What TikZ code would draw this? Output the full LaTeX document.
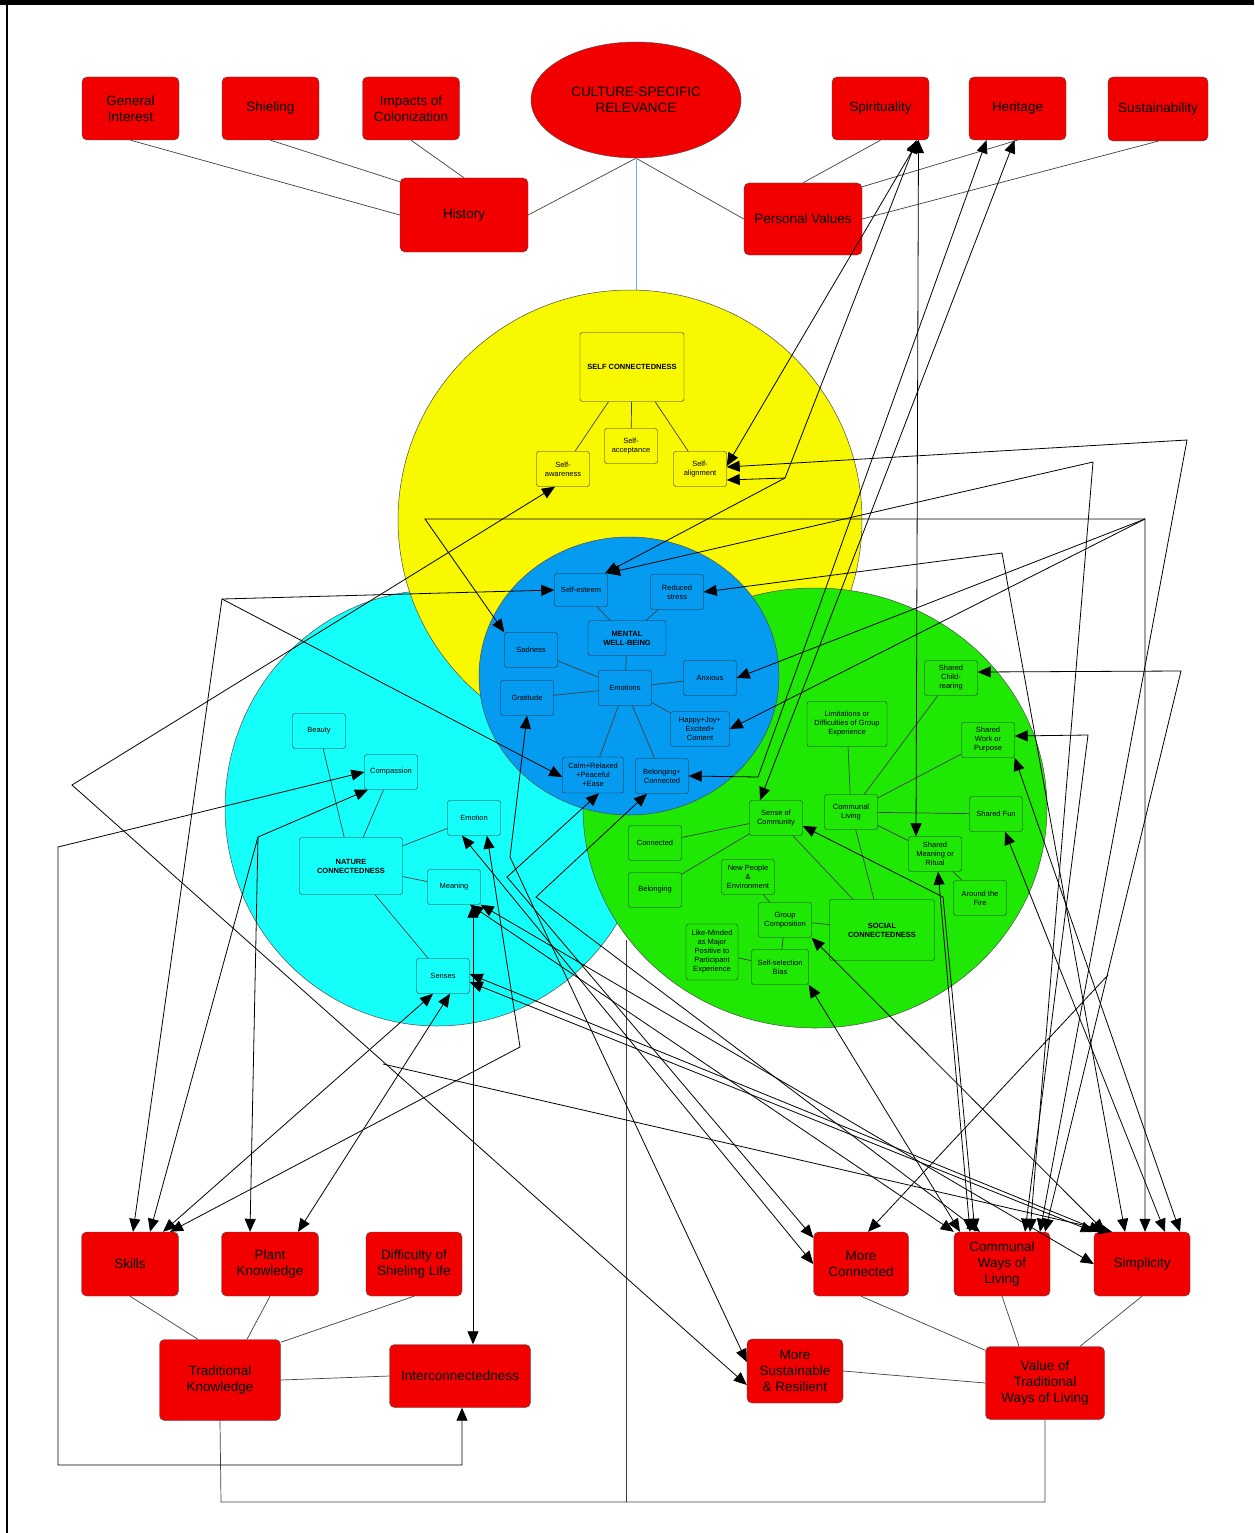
\documentclass[tikz,border=0pt]{standalone}
\usepackage{fontspec}
\setmainfont{Liberation Sans}
\usetikzlibrary{arrows.meta,shapes.geometric}

\definecolor{boxred}{RGB}{242,0,0}
\definecolor{selfyellow}{RGB}{248,248,0}
\definecolor{naturecyan}{RGB}{20,255,250}
\definecolor{socialgreen}{RGB}{32,232,5}
\definecolor{mentalblue}{RGB}{5,155,240}
\definecolor{stemblue}{RGB}{130,165,230}

\newcommand{\redfont}{\fontsize{13.5}{16}\selectfont}
\newcommand{\tinyfont}{\fontsize{7.5}{9}\selectfont}

\tikzset{
	redbox/.style={draw=black!70, fill=boxred, rounded corners=5pt, align=center, font=\redfont, inner sep=1pt},
	smallbox/.style={draw=black!85, fill=#1, rounded corners=2.5pt, align=center, font=\tinyfont, inner sep=1pt, minimum width=53pt, minimum height=35pt},
	headbox/.style={smallbox=#1, font=\tinyfont\bfseries},
	zone/.style={draw=black!70, line width=0.5pt, fill=#1},
	link/.style={draw=black!75, line width=0.7pt},
	both/.style={draw=black, line width=0.8pt, {Triangle[length=13pt,width=11pt]}-{Triangle[length=13pt,width=11pt]}},
	tip/.style={draw=black, line width=0.8pt, -{Triangle[length=13pt,width=11pt]}}
}

\begin{document}
\begin{tikzpicture}[x=1pt, y=-1pt]
	\useasboundingbox (0,0) rectangle (1254,1533);
	\fill[black] (0,0) rectangle (1254,5);
	\draw[line width=2pt] (7,0) -- (7,1533);

	% the four circles
	\draw[zone=naturecyan] (437,808) ellipse [x radius=212pt, y radius=218pt];
	\draw[zone=selfyellow] (630,520) ellipse [x radius=232pt, y radius=230pt];
	\draw[zone=socialgreen] (815,808) ellipse [x radius=232pt, y radius=220pt];
	\draw[zone=mentalblue] (629,676) ellipse [x radius=150pt, y radius=139pt];

	% top row
	\node[redbox, minimum width=97pt, minimum height=63pt] (geninterest) at (130.5,108.5) {General\\Interest};
	\node[redbox, minimum width=97pt, minimum height=63pt] (shieling) at (270.5,108.5) {Shieling};
	\node[redbox, minimum width=97pt, minimum height=63pt] (impacts) at (411,108.5) {Impacts of\\Colonization};
	\node[draw=black!70, fill=boxred, ellipse, minimum width=210pt, minimum height=116pt, align=center, font=\redfont] (csr) at (636,100) {CULTURE-SPECIFIC\\RELEVANCE};
	\node[redbox, minimum width=97pt, minimum height=63pt] (spirit) at (880.5,108.5) {Spirituality};
	\node[redbox, minimum width=97pt, minimum height=63pt] (heritage) at (1017.5,108.5) {Heritage};
	\node[redbox, minimum width=100pt, minimum height=64pt] (sustain) at (1158,109) {Sustainability};
	\node[redbox, minimum width=128pt, minimum height=74pt] (history) at (464,215) {History};
	\node[redbox, minimum width=118pt, minimum height=72pt] (persvalues) at (803,219) {Personal Values};
	\coordinate (yellowtop) at (636,290);

	% self connectedness
	\node[headbox=selfyellow, minimum width=104pt, minimum height=69pt] (selfconn) at (632,367) {SELF CONNECTEDNESS};
	\node[smallbox=selfyellow] (selfaware) at (563,469) {Self-\\awareness};
	\node[smallbox=selfyellow] (selfaccept) at (631,446) {Self-\\acceptance};
	\node[smallbox=selfyellow] (selfalign) at (700,469) {Self-\\alignment};

	% mental well-being
	\node[smallbox=mentalblue, minimum height=33pt] (selfesteem) at (581,590) {Self-esteem};
	\node[smallbox=mentalblue] (reducedstress) at (677,592) {Reduced\\stress};
	\node[headbox=mentalblue, minimum width=78pt] (mentalwb) at (627,638) {MENTAL\\WELL-BEING};
	\node[smallbox=mentalblue] (sadness) at (531,650) {Sadness};
	\node[smallbox=mentalblue] (anxious) at (710,678) {Anxious};
	\node[smallbox=mentalblue] (emotions) at (625,688) {Emotions};
	\node[smallbox=mentalblue] (gratitude) at (527,698) {Gratitude};
	\node[smallbox=mentalblue, minimum width=59pt] (happyjoy) at (700,729) {Happy+Joy+\\Excited+\\Content};
	\node[smallbox=mentalblue, minimum width=61pt, minimum height=36pt] (calm) at (593,775) {Calm+Relaxed\\+Peaceful\\+Ease};
	\node[smallbox=mentalblue] (belongconn) at (662,776) {Belonging+\\Connected};

	% nature connectedness
	\node[smallbox=naturecyan] (beauty) at (319,731) {Beauty};
	\node[smallbox=naturecyan] (compassion) at (391,772) {Compassion};
	\node[headbox=naturecyan, minimum width=103pt, minimum height=57pt] (natureconn) at (351,866) {NATURE\\CONNECTEDNESS};
	\node[smallbox=naturecyan] (emotion) at (474,818) {Emotion};
	\node[smallbox=naturecyan] (meaning) at (454,887) {Meaning};
	\node[smallbox=naturecyan] (senses) at (443,976) {Senses};

	% social connectedness
	\node[smallbox=socialgreen] (childrearing) at (951,678) {Shared\\Child-\\rearing};
	\node[smallbox=socialgreen, minimum width=80pt, minimum height=45pt] (limitations) at (847,724) {Limitations or\\Difficulties of Group\\Experience};
	\node[smallbox=socialgreen] (sharedwork) at (988,740) {Shared\\Work or\\Purpose};
	\node[smallbox=socialgreen] (communalliving) at (851,812) {Communal\\Living};
	\node[smallbox=socialgreen] (senseofcomm) at (776,818) {Sense of\\Community};
	\node[smallbox=socialgreen] (sharedfun) at (996,814) {Shared Fun};
	\node[smallbox=socialgreen] (connected) at (655,843) {Connected};
	\node[smallbox=socialgreen] (sharedmeaning) at (935,854) {Shared\\Meaning or\\Ritual};
	\node[smallbox=socialgreen] (newpeople) at (748,877) {New People\\\&\\Environment};
	\node[smallbox=socialgreen] (belonging) at (655,890) {Belonging};
	\node[smallbox=socialgreen] (aroundfire) at (980,898) {Around the\\Fire};
	\node[smallbox=socialgreen] (groupcomp) at (785,920) {Group\\Composition};
	\node[headbox=socialgreen, minimum width=105pt, minimum height=61pt] (socialconn) at (882,930) {SOCIAL\\CONNECTEDNESS};
	\node[smallbox=socialgreen, minimum width=52pt, minimum height=56pt] (likeminded) at (712,952) {Like-Minded\\as Major\\Positive to\\Participant\\Experience};
	\node[smallbox=socialgreen, minimum width=57pt] (selfselect) at (780,967) {Self-selection\\Bias};

	% bottom rows
	\node[redbox, minimum width=97pt, minimum height=64pt] (skills) at (130,1264) {Skills};
	\node[redbox, minimum width=97pt, minimum height=64pt] (plantknow) at (270,1264) {Plant\\Knowledge};
	\node[redbox, minimum width=96pt, minimum height=64pt] (difficulty) at (414,1264) {Difficulty of\\Shieling Life};
	\node[redbox, minimum width=121pt, minimum height=81pt] (tradknow) at (220,1380) {Traditional\\Knowledge};
	\node[redbox, minimum width=141pt, minimum height=63pt] (interconn) at (460,1376) {Interconnectedness};
	\node[redbox, minimum width=95pt, minimum height=64pt] (moreconn) at (861,1264) {More\\Connected};
	\node[redbox, minimum width=96pt, minimum height=64pt] (communalways) at (1002,1264) {Communal\\Ways of\\Living};
	\node[redbox, minimum width=96pt, minimum height=64pt] (simplicity) at (1142,1264) {Simplicity};
	\node[redbox, minimum width=96pt, minimum height=64pt] (moresust) at (795,1371) {More\\Sustainable\\\& Resilient};
	\node[redbox, minimum width=119pt, minimum height=73pt] (valuetrad) at (1045,1383) {Value of\\Traditional\\Ways of Living};

	% plain links
	\draw[link] (geninterest.south) -- (history.west);
	\draw[link] (shieling.south) -- ([yshift=-4pt]history.north west);
	\draw[link] (impacts.south) -- (history.north);
	\draw[link] (history.east) -- (csr.south) -- (persvalues.west);
	\draw[stemblue, line width=0.7pt] (csr.south) -- (yellowtop);
	\draw[link] (spirit.south) -- (persvalues.north);
	\draw[link] ([yshift=-4pt]persvalues.north east) -- (heritage.south);
	\draw[link] (persvalues.east) -- (sustain.south);
	\foreach \a/\b in {selfconn/selfaware, selfconn/selfaccept, selfconn/selfalign,
		mentalwb/selfesteem, mentalwb/reducedstress, mentalwb/emotions, emotions/sadness,
		emotions/gratitude, emotions/anxious, emotions/happyjoy, emotions/calm, emotions/belongconn,
		natureconn/beauty, natureconn/compassion, natureconn/emotion, natureconn/meaning, natureconn/senses,
		senseofcomm/connected, senseofcomm/belonging, senseofcomm/socialconn,
		communalliving/limitations, communalliving/childrearing, communalliving/sharedwork,
		communalliving/sharedfun, communalliving/sharedmeaning, communalliving/socialconn,
		newpeople/groupcomp, groupcomp/socialconn, groupcomp/selfselect, likeminded/selfselect,
		sharedmeaning/aroundfire}
		\draw[link] (\a) -- (\b);
	\draw[link] (skills.south) -- ([xshift=-22pt]tradknow.north);
	\draw[link] (plantknow.south) -- ([xshift=27pt]tradknow.north);
	\draw[link] (difficulty.south) -- ([yshift=-3pt]tradknow.north east);
	\draw[link] (tradknow.east) -- (interconn.west);
	\draw[link] (moreconn.south) -- ([yshift=-4pt]valuetrad.north west);
	\draw[link] (communalways.south) -- ([xshift=-26pt]valuetrad.north);
	\draw[link] (simplicity.south) -- ([xshift=35pt]valuetrad.north);
	\draw[link] (moresust.east) -- (valuetrad.west);
	\draw[link] (tradknow.south) -- (221,1502) -- (1045,1502) -- (valuetrad.south);
	\draw[link] (626,1502) -- (626,940);

	% upper connectors
	\draw[both] ([xshift=38pt]spirit.south) -- ([xshift=-19pt]sharedmeaning.north);
	\draw[both] ([xshift=38pt]spirit.south) -- ([yshift=3pt]selfalign.east);
	\draw[both] ([xshift=36pt]spirit.south) -- (785,478) -- ([yshift=-11pt]selfalign.east);
	\draw[tip] (785,478) -- ([xshift=24pt]selfesteem.north);
	\draw[both] ([xshift=-31pt]heritage.south) -- (758,777) -- (belongconn.east);
	\draw[both] ([xshift=-3pt]heritage.south) -- ([xshift=-16pt]senseofcomm.north);

	% right-hand connectors
	\draw[both] ([xshift=38pt]communalways.north) -- (1187,440) -- ([yshift=2pt]selfalign.east);
	\draw[both] ([xshift=28pt]communalways.north) -- (1093,462) -- ([xshift=26pt]selfesteem.north);
	\draw[both] ([xshift=3pt]simplicity.north) -- (1145,519) -- (425,519) -- (sadness.north west);
	\draw[tip] (1145,519) -- (anxious.east);
	\draw[tip] (1145,519) -- (happyjoy.east);
	\draw[both] ([xshift=-17pt]simplicity.north) -- (1002,553) -- (reducedstress.east);
	\draw[both] ([xshift=43pt]communalways.north) -- (1181,671) -- ([yshift=6pt]childrearing.east);
	\draw[tip] (1108,975) -- ([xshift=7pt]moreconn.north);
	\draw[both] ([xshift=23pt]communalways.north) -- (1088,735) -- ([yshift=4pt]sharedwork.east);
	\draw[both] ([xshift=38pt]simplicity.north) -- (sharedwork.south east);
	\draw[both] ([xshift=23pt]simplicity.north) -- ([xshift=9pt]sharedfun.south);
	\draw[both] ([xshift=-32pt]communalways.north) -- ([xshift=3pt]sharedmeaning.south);
	\draw[both] ([xshift=-37pt]simplicity.north) -- (groupcomp.south east);
	\draw[both] ([xshift=-42pt]communalways.north) -- (selfselect.south east);
	\draw[both] ([xshift=-27pt]communalways.north) -- (943,897) -- ([yshift=-8pt]senseofcomm.east);

	% middle connectors
	\draw[both] ([xshift=6pt]calm.south) -- (507,877) -- ([yshift=-6pt]moreconn.north west);
	\draw[both] ([xshift=-15pt]belongconn.south) -- (536,897) -- ([xshift=-22pt]communalways.north);
	\draw[both] ([xshift=-12pt]emotion.south) -- (moreconn.west);
	\draw[both] (gratitude.south) -- (510,857) -- ([yshift=9pt]moresust.west);
	\draw[both] (meaning.south east) -- (simplicity.west);
	\draw[both] ([xshift=16pt]meaning.south) -- (communalways.north west);
	\draw[both] ([yshift=2pt]senses.east) -- ([xshift=-40pt]simplicity.north);
	\draw[both] ([yshift=-6pt]senses.east) -- (simplicity.north west);
	\draw[tip] (383,1064) -- ([xshift=-30pt]simplicity.north);

	% left-hand connectors
	\draw[both] ([xshift=-8pt]selfaware.south) -- (72,785) -- ([yshift=-14pt]moresust.west);
	\draw[both] ([xshift=3pt]skills.north) -- (222,599) -- (selfesteem.west);
	\draw[tip] (222,599) -- ([yshift=-2pt]calm.west);
	\draw[both] ([xshift=-23pt]compassion.south) -- (258,837) -- ([xshift=20pt]skills.north);
	\draw[tip] (258,837) -- ([xshift=-20pt]plantknow.north);
	\draw[both] ([xshift=13pt]emotion.south) -- (520,1047) -- ([xshift=40pt]skills.north);
	\draw[both] ([xshift=-10pt]senses.south) -- ([xshift=33pt]skills.north);
	\draw[both] ([xshift=7pt]senses.south) -- ([xshift=28pt]plantknow.north);
	\draw[both] (compassion.west) -- (58,847) -- (58,1465) -- (462,1465) -- ([xshift=2pt]interconn.south);
	\draw[both] ([xshift=19pt]meaning.south) -- ([xshift=13pt]interconn.north);
\end{tikzpicture}
\end{document}
